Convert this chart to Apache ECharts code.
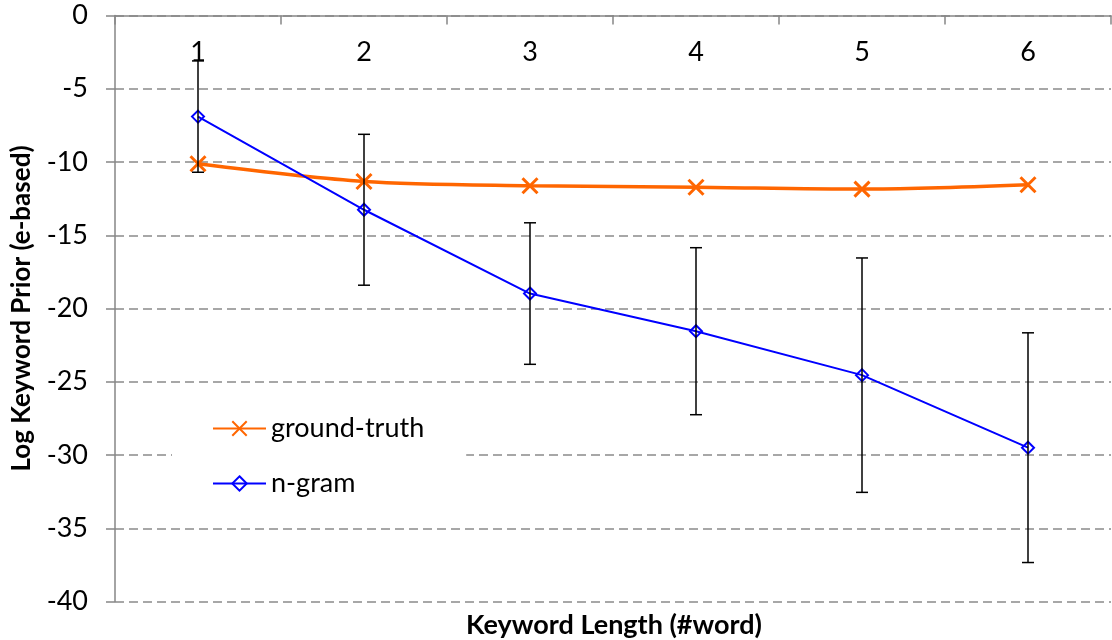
<!DOCTYPE html>
<html>
<head>
<meta charset="utf-8">
<script src="https://cdn.jsdelivr.net/npm/echarts@6/dist/echarts.min.js"></script>
<style>
  html, body { margin: 0; padding: 0; background: #fff; }
  #chart { width: 1112px; height: 640px; }
</style>
</head>
<body>
<div id="chart"></div>
<script>
// Keyword length categories
const lengths = ['1', '2', '3', '4', '5', '6'];
// Mean log prior of the ground-truth keywords
const groundTruth = [-10.12, -11.33, -11.62, -11.72, -11.85, -11.55];
// Mean log prior estimated by the n-gram model, and its spread (± one std)
const ngram = [-6.9, -13.26, -18.98, -21.55, -24.55, -29.5];
const ngramErr = [3.8, 5.15, 4.83, 5.7, 8.0, 7.84];
// Value-axis range
const yMin = -40, yMax = 0, yStep = 5;

const FONT = 'Lato';
const chart = echarts.init(document.getElementById('chart'), null, { renderer: 'canvas' });

const errData = lengths.map((c, i) => [i, ngram[i], ngramErr[i]]);

chart.setOption({
  animation: false,
  backgroundColor: '#ffffff',
  textStyle: { fontFamily: FONT },
  grid: { left: 115, right: 1, top: 15.5, bottom: 38.5, containLabel: false },
  legend: {
    orient: 'vertical',
    left: 172,
    top: 400,
    padding: [15, 42, 15, 40],
    backgroundColor: '#ffffff',
    itemWidth: 53,
    itemHeight: 18,
    itemGap: 28,
    textStyle: { fontFamily: FONT, fontSize: 27, color: '#000' },
    data: ['ground-truth', 'n-gram']
  },
  xAxis: {
    type: 'category',
    position: 'top',
    data: lengths,
    boundaryGap: true,
    axisLine: { show: true, lineStyle: { color: '#868686', width: 1.5 } },
    axisTick: { show: true, inside: true, length: 9, lineStyle: { color: '#868686', width: 1.5 } },
    axisLabel: { inside: true, margin: 23, fontFamily: FONT, fontSize: 27, color: '#000' },
    splitLine: { show: false }
  },
  yAxis: {
    type: 'value',
    min: yMin,
    max: yMax,
    interval: yStep,
    name: 'Log Keyword Prior (e-based)',
    nameLocation: 'middle',
    nameGap: 80,
    nameRotate: 90,
    nameTextStyle: { fontFamily: FONT, fontSize: 26, fontWeight: 'bold', color: '#000' },
    axisLine: { show: true, lineStyle: { color: '#868686', width: 1.5 } },
    axisTick: { show: true, inside: false, length: 9, lineStyle: { color: '#868686', width: 1.5 } },
    axisLabel: { margin: 27, fontFamily: FONT, fontSize: 27, color: '#000' },
    splitLine: { show: true, lineStyle: { color: '#8a8a8a', width: 1.5, type: [9, 5] } }
  },
  graphic: [{
    type: 'text',
    x: 614,
    y: 625,
    style: {
      text: 'Keyword Length (#word)',
      align: 'center',
      verticalAlign: 'middle',
      font: 'bold 27px ' + FONT,
      fill: '#000'
    }
  }],
  series: [
    {
      name: 'ground-truth',
      type: 'line',
      data: groundTruth,
      smooth: 0.3,
      symbol: 'path://M0,0L10,10M10,0L0,10',
      symbolSize: 15,
      lineStyle: { color: '#FF6600', width: 3.5 },
      itemStyle: { color: '#FF6600', borderColor: '#FF6600', borderWidth: 3 },
      z: 3
    },
    {
      name: 'n-gram',
      type: 'line',
      data: ngram,
      symbol: 'diamond',
      symbolSize: 12,
      lineStyle: { color: '#0000FF', width: 2 },
      itemStyle: { color: 'rgba(255,255,255,0)', borderColor: '#0000FF', borderWidth: 2 },
      z: 3
    },
    {
      name: 'n-gram error',
      type: 'custom',
      data: errData,
      encode: { x: 0, y: 1 },
      z: 4,
      renderItem: function (params, api) {
        const idx = api.value(0);
        const mean = api.value(1);
        const err = api.value(2);
        const top = api.coord([idx, mean + err]);
        const bot = api.coord([idx, mean - err]);
        const cap = 6;
        const style = { stroke: '#000', lineWidth: 1.5 };
        return {
          type: 'group',
          children: [
            { type: 'line', shape: { x1: top[0], y1: top[1], x2: bot[0], y2: bot[1] }, style: style },
            { type: 'line', shape: { x1: top[0] - cap, y1: top[1], x2: top[0] + cap, y2: top[1] }, style: style },
            { type: 'line', shape: { x1: bot[0] - cap, y1: bot[1], x2: bot[0] + cap, y2: bot[1] }, style: style }
          ]
        };
      }
    }
  ]
});
</script>
</body>
</html>
